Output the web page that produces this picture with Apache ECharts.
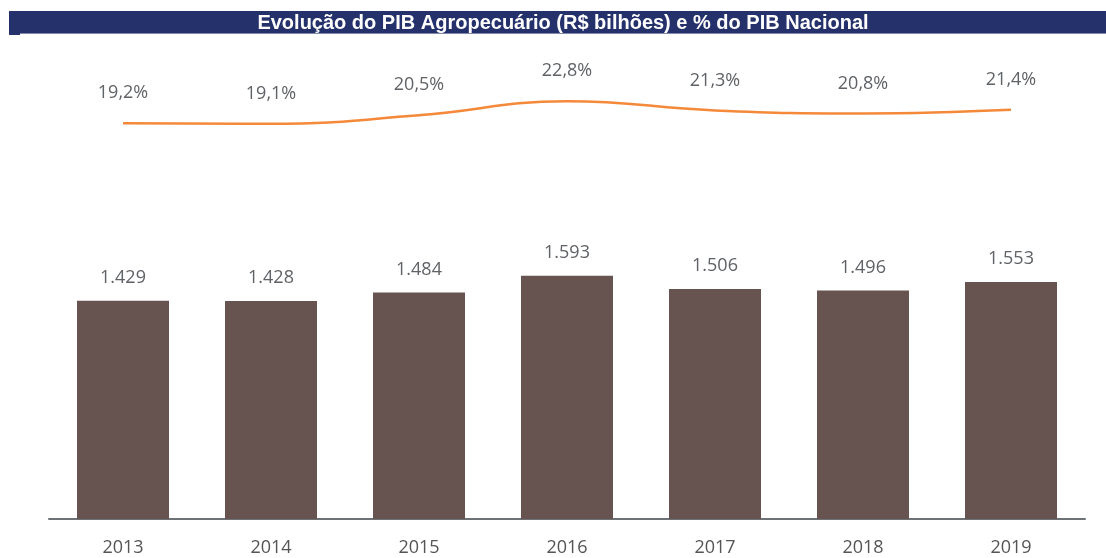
<!DOCTYPE html>
<html>
<head>
<meta charset="utf-8">
<script src="https://cdn.jsdelivr.net/npm/echarts@6/dist/echarts.min.js"></script>
<style>
  html, body { margin: 0; padding: 0; background: #fff; }
  #chart { width: 1106px; height: 558px; }
</style>
</head>
<body>
<div id="chart"></div>
<script>
  // dados
  var anos = ['2013', '2014', '2015', '2016', '2017', '2018', '2019'];
  var pibAgro = [1429, 1428, 1484, 1593, 1506, 1496, 1553];   // R$ bilhões
  var pctNacional = [19.2, 19.1, 20.5, 22.8, 21.3, 20.8, 21.4];

  var chart = echarts.init(document.getElementById('chart'));

  var fonte = '"Open Sans", "DejaVu Sans", sans-serif';

  var option = {
    animation: false,
    title: {
      text: 'Evolução do PIB Agropecuário (R$ bilhões) e % do PIB Nacional',
      left: 563,
      textAlign: 'center',
      top: 12,
      padding: 0,
      textStyle: {
        color: '#ffffff',
        fontSize: 20,
        fontWeight: 'bold',
        lineHeight: 22,
        fontFamily: '"Liberation Sans", Arial, sans-serif'
      }
    },
    graphic: [
      { type: 'rect', z: -1, shape: { x: 9, y: 11, width: 1097, height: 22 }, style: { fill: '#25316b' } },
      { type: 'rect', z: -1, shape: { x: 20, y: 33, width: 1086, height: 1 }, style: { fill: '#8089aa' } },
      { type: 'rect', z: -1, shape: { x: 9, y: 33, width: 11, height: 2 }, style: { fill: '#25316b' } }
    ],
    grid: {
      left: 49,
      right: 21,
      top: 61,
      bottom: 39
    },
    xAxis: {
      type: 'category',
      data: anos,
      axisLine: { lineStyle: { color: '#6d7277', width: 2 } },
      axisTick: { show: false },
      axisLabel: {
        color: '#555555',
        fontSize: 18,
        margin: 20,
        fontFamily: fonte
      }
    },
    yAxis: [{
      type: 'value',
      min: 0,
      max: 3000,
      show: false,
      splitLine: { show: false }
    }, {
      type: 'value',
      min: -45.7,
      max: 29.4,
      show: false,
      splitLine: { show: false }
    }],
    series: [{
      name: 'PIB Agropecuário',
      type: 'bar',
      data: pibAgro,
      barWidth: 92,
      itemStyle: { color: '#67534f' },
      label: {
        show: true,
        position: 'top',
        distance: 14,
        color: '#5f6266',
        fontSize: 18,
        fontFamily: fonte,
        formatter: function (p) {
          return (p.value / 1000).toFixed(3);
        }
      }
    }, {
      name: '% do PIB Nacional',
      type: 'line',
      yAxisIndex: 1,
      data: pctNacional,
      smooth: 0.45,
      symbol: 'circle',
      symbolSize: 2,
      showSymbol: true,
      itemStyle: { color: 'rgba(245,137,58,0)', borderWidth: 0 },
      lineStyle: { color: '#f5893a', width: 2.5 },
      label: {
        show: true,
        position: 'top',
        distance: 20,
        color: '#5f6266',
        fontSize: 18,
        fontFamily: fonte,
        formatter: function (p) {
          return p.value.toFixed(1).replace('.', ',') + '%';
        }
      }
    }]
  };

  chart.setOption(option);
</script>
</body>
</html>
